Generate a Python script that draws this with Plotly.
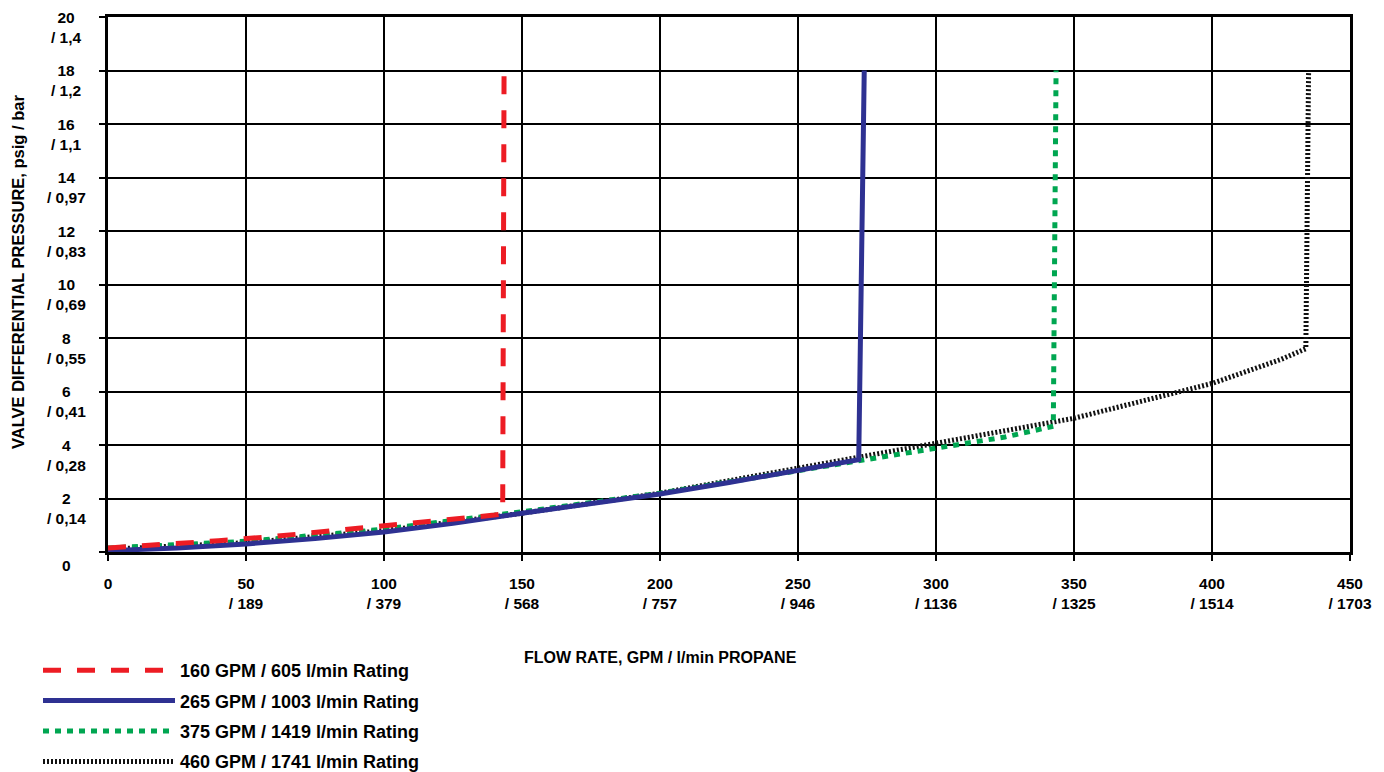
import plotly.graph_objects as go

# ---- data ----
red_x = [0, 20, 40, 60, 80, 100, 120, 140, 143, 143.5]
red_y = [0.15, 0.27, 0.42, 0.58, 0.77, 0.97, 1.17, 1.38, 1.42, 18]

blue_x = [0, 25, 50, 75, 100, 125, 150, 175, 200, 225, 250, 272, 274]
blue_y = [0.05, 0.15, 0.3, 0.5, 0.75, 1.07, 1.45, 1.8, 2.17, 2.6, 3.05, 3.45, 18]

green_x = [0, 50, 100, 150, 200, 250, 300, 325, 342.5, 343.5]
green_y = [0.15, 0.4, 0.85, 1.5, 2.2, 3.05, 3.9, 4.3, 4.7, 18]

black_x = [0, 50, 100, 150, 200, 250, 300, 350, 400, 415, 425, 434, 435]
black_y = [0.1, 0.35, 0.8, 1.45, 2.2, 3.12, 4.05, 5.0, 6.3, 6.85, 7.2, 7.6, 18]

series_names = ["160 GPM / 605 l/min Rating", "265 GPM / 1003 l/min Rating",
                "375 GPM / 1419 l/min Rating", "460 GPM / 1741 l/min Rating"]

x_tickvals = [0, 50, 100, 150, 200, 250, 300, 350, 400, 450]
x_ticktext = ["0", "50<br>/ 189", "100<br>/ 379", "150<br>/ 568", "200<br>/ 757",
              "250<br>/ 946", "300<br>/ 1136", "350<br>/ 1325", "400<br>/ 1514", "450<br>/ 1703"]
y_tickvals = [0, 2, 4, 6, 8, 10, 12, 14, 16, 18, 20]
y_ticktext = ["0", "2<br>/ 0,14", "4<br>/ 0,28", "6<br>/ 0,41", "8<br>/ 0,55", "10<br>/ 0,69",
              "12<br>/ 0,83", "14<br>/ 0,97", "16<br>/ 1,1", "18<br>/ 1,2", "20<br>/ 1,4"]

FONT = "Liberation Sans, Arial, sans-serif"

# page body has an 8px default margin: plot area sits at x 108..1350, y 17..552 of the window
W, H = 1376, 764
ML, MR, MT, MB = 100, 34, 9, 220
PW = W - ML - MR
PH = H - MT - MB


def px_x(p):  # window pixel -> paper x
    return (p - 108) / PW


def px_y(p):  # window pixel -> paper y
    return (552 - p) / PH


fig = go.Figure()
traces = [
    (black_x, black_y, series_names[3], dict(color="#111111", width=5, dash="2px,2px"), 4),
    (green_x, green_y, series_names[2], dict(color="#00a651", width=5, dash="6px,6px"), 3),
    (blue_x, blue_y, series_names[1], dict(color="#2e3192", width=5), 2),
    (red_x, red_y, series_names[0], dict(color="#ed1c24", width=5, dash="18px,16px"), 1),
]
for xs, ys, nm, ln, rk in traces:
    fig.add_trace(go.Scatter(x=xs, y=ys, mode="lines", name=nm, line=ln,
                             legendrank=rk, legendgroup=nm))

annotations = []
for v, t in zip(y_tickvals, y_ticktext):
    annotations.append(dict(text=t, xref="paper", yref="y", x=px_x(66), y=v,
                            xanchor="center", yanchor="middle", align="center",
                            yshift=-13 if v == 0 else -10, showarrow=False,
                            font=dict(size=15.5, family=FONT, weight="bold", color="black")))
annotations.append(dict(text="FLOW RATE, GPM / l/min PROPANE", xref="paper", yref="paper",
                        x=px_x(660), y=px_y(657), showarrow=False,
                        xanchor="center", yanchor="middle",
                        font=dict(size=16, family=FONT, weight="bold", color="black")))
annotations.append(dict(text="VALVE DIFFERENTIAL PRESSURE, psig / bar", xref="paper", yref="paper",
                        x=px_x(18), y=px_y(272), showarrow=False, textangle=-90,
                        xanchor="center", yanchor="middle",
                        font=dict(size=16.5, family=FONT, weight="bold", color="black")))

fig.update_layout(
    width=W, height=H,
    margin=dict(l=ML, r=MR, t=MT, b=MB, autoexpand=False),
    paper_bgcolor="white", plot_bgcolor="white",
    font=dict(family=FONT, color="black", size=15.5),
    legend=dict(x=px_x(38), y=px_y(652), xanchor="left", yanchor="top",
                font=dict(size=18, family=FONT, color="black", weight="bold"),
                itemwidth=132, tracegroupgap=4, traceorder="grouped",
                bgcolor="rgba(0,0,0,0)"),
    xaxis=dict(range=[0, 450], tickvals=x_tickvals, ticktext=x_ticktext,
               showgrid=True, gridcolor="black", gridwidth=2,
               showline=True, linecolor="black", linewidth=3, mirror=True,
               ticks="outside", ticklen=6, tickwidth=2, tickcolor="black",
               tickfont=dict(size=15.5, family=FONT, weight="bold"),
               ticklabelstandoff=9, zeroline=False),
    yaxis=dict(range=[0, 20], tickvals=y_tickvals, showticklabels=False,
               showgrid=True, gridcolor="black", gridwidth=2,
               showline=True, linecolor="black", linewidth=3, mirror=True,
               ticks="outside", ticklen=6, tickwidth=2, tickcolor="black",
               zeroline=False),
    annotations=annotations,
)

fig.write_html("out.html")
